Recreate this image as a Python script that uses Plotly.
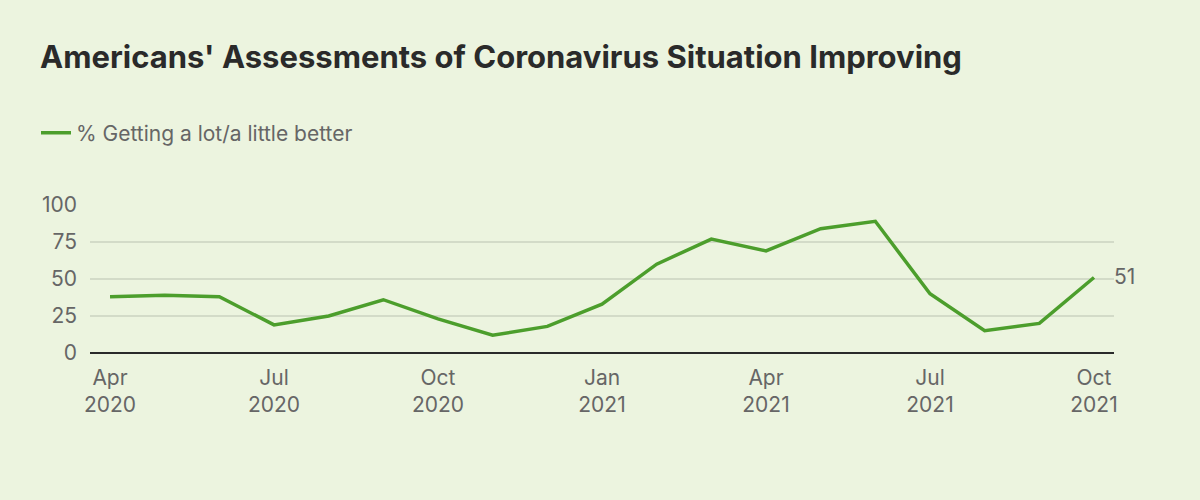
import plotly.graph_objects as go

months = ["Apr 2020", "May 2020", "Jun 2020", "Jul 2020", "Aug 2020", "Sep 2020",
          "Oct 2020", "Nov 2020", "Dec 2020", "Jan 2021", "Feb 2021", "Mar 2021",
          "Apr 2021", "May 2021", "Jun 2021", "Jul 2021", "Aug 2021", "Sep 2021", "Oct 2021"]
better = [38, 39, 38, 19, 25, 36, 23, 12, 18, 33, 60, 77, 69, 84, 89, 40, 15, 20, 51]
tick_pos = [0, 3, 6, 9, 12, 15, 18]
tick_text = ["Apr<br>2020", "Jul<br>2020", "Oct<br>2020", "Jan<br>2021",
             "Apr<br>2021", "Jul<br>2021", "Oct<br>2021"]
y_ticks = [0, 25, 50, 75, 100]

x_idx = list(range(len(months)))
bg = "#ECF4DF"
green = "#4C9E2C"

fig = go.Figure()
fig.add_trace(go.Scatter(
    x=x_idx, y=better, mode="lines", name="% Getting a lot/a little better",
    line=dict(color=green, width=3.5), customdata=months,
    hovertemplate="%{customdata}: %{y}<extra></extra>",
))

fig.add_annotation(x=x_idx[-1], y=better[-1], text=str(better[-1]), showarrow=False,
                   xanchor="left", xshift=18, yshift=1,
                   font=dict(size=21, color="#666666", family="Inter"))

fig.update_layout(
    width=1200, height=500,
    paper_bgcolor=bg, plot_bgcolor=bg,
    margin=dict(l=90, r=86, t=205, b=147),
    font=dict(family="Inter, Roboto, sans-serif", color="#666666", size=21),
    title=dict(text="<b>Americans' Assessments of Coronavirus Situation Improving</b>",
               x=40 / 1200, xanchor="left", y=1 - 57 / 500, yanchor="middle",
               font=dict(size=31, color="#2A2A2A", family="Inter")),
    showlegend=True,
    legend=dict(x=(36 - 90) / 1024, xanchor="left", y=1 + 72 / 148, yanchor="middle",
                orientation="h", bgcolor="rgba(0,0,0,0)",
                font=dict(size=21, color="#666666"), itemwidth=30),
    xaxis=dict(range=[-0.366, 18.366], tickmode="array", tickvals=tick_pos,
               ticktext=tick_text, showgrid=False, zeroline=False,
               showline=False, ticks="", tickfont=dict(size=21, color="#666666"),
               ticklabelstandoff=10, fixedrange=True),
    yaxis=dict(range=[0, 100], tickmode="array", tickvals=y_ticks,
               showgrid=True, gridcolor="#D3DBC8", gridwidth=1.5,
               zeroline=True, zerolinecolor="#2A2A2A", zerolinewidth=2,
               showline=False, ticks="", ticklabelstandoff=12,
               tickfont=dict(size=21, color="#666666"), fixedrange=True),
)

fig.write_html("out.html", config={"displayModeBar": False},
               post_script="document.body.style.margin='0';")
